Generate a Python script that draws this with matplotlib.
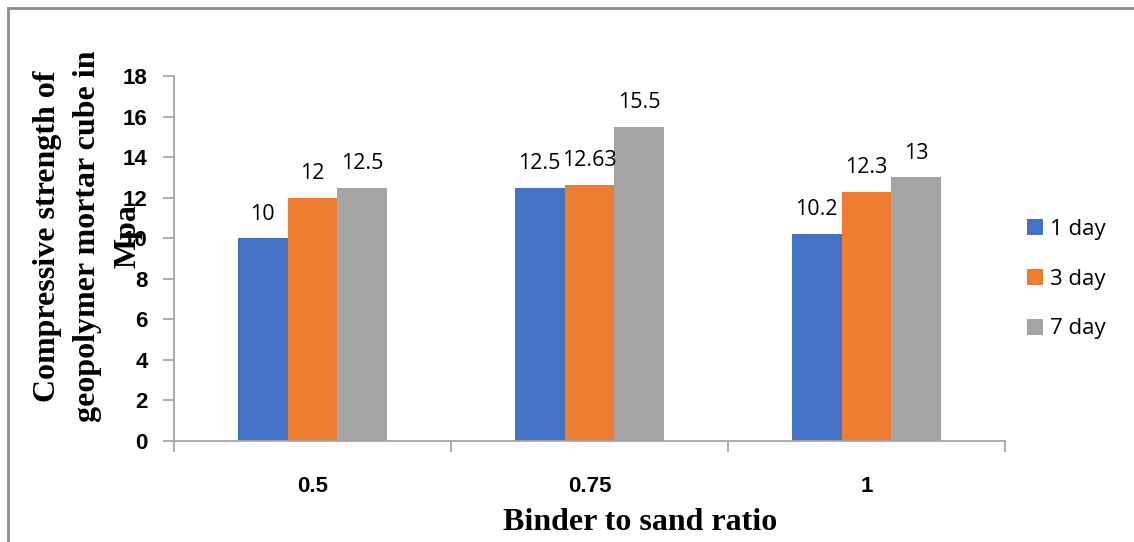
import matplotlib.pyplot as plt
import numpy as np
from matplotlib.lines import Line2D

# Compressive strength (MPa) by binder to sand ratio and curing age
ratios = ["0.5", "0.75", "1"]
ages = ["1 day", "3 day", "7 day"]
strength_1day = [10, 12.5, 10.2]
strength_3day = [12, 12.63, 12.3]
strength_7day = [12.5, 15.5, 13]
colors = ["#4472C4", "#ED7D31", "#A5A5A5"]

fig = plt.figure(figsize=(11.34, 5.42), dpi=100)
ax = fig.add_axes([0.1534, 0.1863, 0.7328, 0.6734])

x = np.arange(len(ratios))
width = 0.18
series = [strength_1day, strength_3day, strength_7day]
for i, (vals, label, col) in enumerate(zip(series, ages, colors)):
    bars = ax.bar(x + (i - 1) * width, vals, width, color=col, label=label)
    for b, v in zip(bars, vals):
        ax.annotate(f"{v:g}", (b.get_x() + b.get_width() / 2, v),
                    xytext=(0, 13.5), textcoords="offset points",
                    ha="center", va="baseline", fontsize=15.5, family="Open Sans")

ax.set_xlim(-0.5, len(ratios) - 0.5)
ax.set_ylim(0, 18)
ax.set_yticks(np.arange(0, 19, 2))
ax.set_xticks(x)
ax.set_xticklabels(ratios)
ax.set_xticks(np.arange(-0.5, len(ratios)), minor=True)

axis_col = "#A6A6A6"
for side in ["top", "right"]:
    ax.spines[side].set_visible(False)
for side in ["left", "bottom"]:
    ax.spines[side].set_color(axis_col)
    ax.spines[side].set_linewidth(1.3)

ax.tick_params(axis="x", which="major", length=0, pad=25, labelsize=16)
ax.tick_params(axis="x", which="minor", length=8, color=axis_col, width=1.3)
ax.tick_params(axis="y", length=8, color=axis_col, width=1.3, pad=11, labelsize=16)
for lbl in ax.get_xticklabels() + ax.get_yticklabels():
    lbl.set_family("Liberation Sans")
    lbl.set_fontweight("bold")

fig.text(88 / 1134, 1 - 236 / 542,
         "Compressive strength of\ngeopolymer mortar cube in\nMpa",
         rotation=90, ha="center", va="center", multialignment="center",
         family="Liberation Serif", fontweight="bold", fontsize=23, linespacing=1.5)
fig.text(640 / 1134, 1 - 522 / 542, "Binder to sand ratio",
         ha="center", va="center", family="Liberation Serif",
         fontweight="bold", fontsize=23)

fig.legend(loc="center left", bbox_to_anchor=(1027 / 1134, 1 - 279 / 542),
           frameon=False, borderpad=0, borderaxespad=0,
           handlelength=0.72, handleheight=0.72, handletextpad=0.32,
           labelspacing=1.3, prop={"family": "Open Sans", "size": 16})

# chart frame: left and top edges
fig.add_artist(Line2D([8 / 1134, 8 / 1134], [0, 1 - 8 / 542],
                      transform=fig.transFigure, color="#8C8C8C", lw=2))
fig.add_artist(Line2D([8 / 1134, 1], [1 - 8 / 542, 1 - 8 / 542],
                      transform=fig.transFigure, color="#8C8C8C", lw=2))

fig.savefig("out.png", dpi=100)
